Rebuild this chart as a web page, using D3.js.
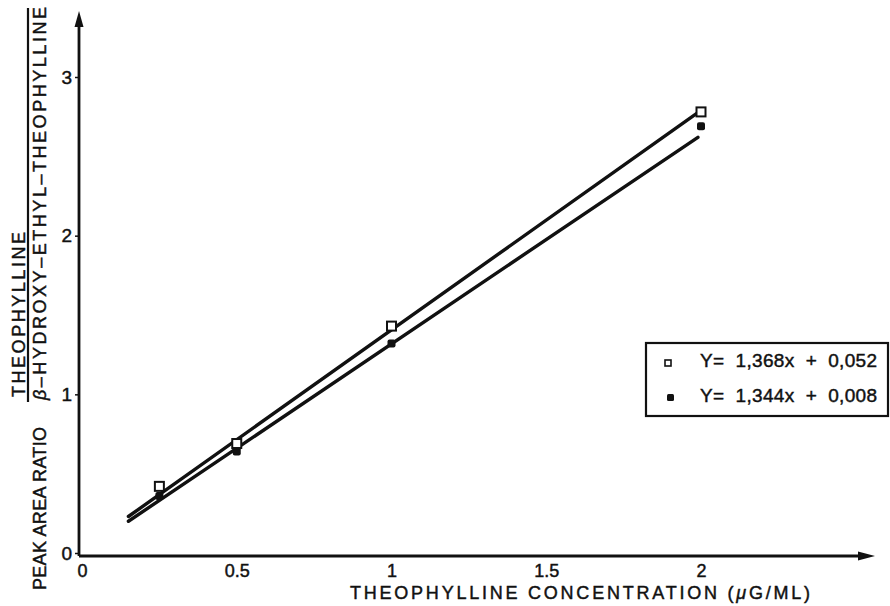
<!DOCTYPE html>
<html>
<head>
<meta charset="utf-8">
<script src="https://cdn.jsdelivr.net/npm/d3@7"></script>
<style>
  body { margin: 0; background: #fff; }
  svg { display: block; font-family: "Liberation Sans", Arial, sans-serif; }
  text { fill: #111; stroke: #111; stroke-width: 0.45px; }
</style>
</head>
<body>
<div id="chart"></div>
<script>
// ===== Data =====
const concentrations = [0.25, 0.5, 1, 2];
const ratioOpen = [0.42, 0.69, 1.43, 2.78];
const ratioFilled = [0.36, 0.64, 1.32, 2.69];
// fitted lines as drawn (start / end points)
const lineOpen = [[0.15, 0.23], [2, 2.79]];
const lineFilled = [[0.15, 0.2], [1.99, 2.62]];
const xTicks = [0, 0.5, 1, 1.5, 2];
const xTickLabels = ["0", "0.5", "1", "1.5", "2"];
const yTicks = [0, 1, 2, 3];
const legendLabels = ["Y=  1,368x  +  0,052", "Y=  1,344x  +  0,008"];

const W = 890, H = 606;
const svg = d3.select("#chart").append("svg").attr("width", W).attr("height", H);

const x = d3.scaleLinear().domain([0, 2]).range([82, 701]);
const y = d3.scaleLinear().domain([0, 3]).range([553, 77]);
const axisX = 79, axisY = 556;

// ===== Axes =====
svg.append("g")
  .attr("transform", `translate(${axisX},0)`)
  .call(d3.axisLeft(y).tickValues(yTicks).tickSize(4).tickPadding(3).tickFormat(d3.format("d")))
  .call((g) => g.select(".domain").remove())
  .call((g) => g.selectAll("line").attr("stroke", "#111").attr("stroke-width", 1.5))
  .call((g) => g.selectAll("text").attr("font-size", 19).attr("fill", "#111"));

svg.append("g")
  .attr("transform", `translate(0,${axisY})`)
  .call(d3.axisBottom(x).tickValues(xTicks).tickSize(0).tickPadding(8)
    .tickFormat((d, i) => xTickLabels[i]))
  .call((g) => g.select(".domain").remove())
  .call((g) => g.selectAll("text").attr("font-size", 18).attr("fill", "#111"));

// axis lines with arrow heads
svg.append("line").attr("x1", axisX).attr("y1", axisY).attr("x2", axisX).attr("y2", 22)
  .attr("stroke", "#111").attr("stroke-width", 2.8);
svg.append("path").attr("d", `M${axisX - 4.5},27 L${axisX},11 L${axisX + 4.5},27 Z`).attr("fill", "#111");
svg.append("line").attr("x1", axisX).attr("y1", axisY).attr("x2", 862).attr("y2", axisY)
  .attr("stroke", "#111").attr("stroke-width", 2.8);
svg.append("path").attr("d", `M858,${axisY - 4.5} L875,${axisY} L858,${axisY + 4.5} Z`).attr("fill", "#111");

// ===== Axis titles =====
svg.append("text")
  .attr("x", 350).attr("y", 599)
  .attr("font-size", 18)
  .attr("textLength", 460).attr("lengthAdjust", "spacing")
  .html('THEOPHYLLINE CONCENTRATION (<tspan font-style="italic">μ</tspan>G/ML)');

svg.append("text")
  .attr("transform", "translate(46,590) rotate(-90)")
  .attr("font-size", 18)
  .attr("textLength", 163).attr("lengthAdjust", "spacing")
  .text("PEAK AREA RATIO");

svg.append("text")
  .attr("transform", "translate(25,397) rotate(-90)")
  .attr("font-size", 18)
  .attr("textLength", 165).attr("lengthAdjust", "spacing")
  .text("THEOPHYLLINE");

svg.append("line").attr("x1", 28).attr("y1", 8).attr("x2", 28).attr("y2", 402)
  .attr("stroke", "#111").attr("stroke-width", 2.2);

svg.append("text")
  .attr("transform", "translate(46,400) rotate(-90)")
  .attr("font-size", 18)
  .attr("textLength", 393).attr("lengthAdjust", "spacing")
  .html('<tspan font-style="italic">β</tspan>–HYDROXY–ETHYL–THEOPHYLLINE');

// ===== Regression lines =====
const line = d3.line().x((d) => x(d[0])).y((d) => y(d[1]));
[lineOpen, lineFilled].forEach((pts) => {
  svg.append("path")
    .datum(pts)
    .attr("d", line)
    .attr("fill", "none")
    .attr("stroke", "#111")
    .attr("stroke-width", 3.4)
    .attr("stroke-linecap", "round");
});

// ===== Points =====
const filledPts = concentrations.map((c, i) => ({ c, v: ratioFilled[i] }));
const openPts = concentrations.map((c, i) => ({ c, v: ratioOpen[i] }));

svg.selectAll(".filled")
  .data(filledPts)
  .enter()
  .append("rect")
  .attr("class", "filled")
  .attr("x", (d) => x(d.c) - 4)
  .attr("y", (d) => y(d.v) - 4)
  .attr("width", 8).attr("height", 8)
  .attr("rx", 2)
  .attr("fill", "#111");

svg.selectAll(".open")
  .data(openPts)
  .enter()
  .append("rect")
  .attr("class", "open")
  .attr("x", (d) => x(d.c) - 4.5)
  .attr("y", (d) => y(d.v) - 4.5)
  .attr("width", 9).attr("height", 9)
  .attr("fill", "#fff")
  .attr("stroke", "#111")
  .attr("stroke-width", 2);

// ===== Legend =====
const legend = svg.append("g");
legend.append("rect")
  .attr("x", 646).attr("y", 343).attr("width", 242).attr("height", 73)
  .attr("fill", "#fff").attr("stroke", "#111").attr("stroke-width", 2.2);

legend.append("rect").attr("x", 665).attr("y", 360).attr("width", 6).attr("height", 6)
  .attr("fill", "#fff").attr("stroke", "#111").attr("stroke-width", 1.6);
legend.append("rect").attr("x", 667).attr("y", 394).attr("width", 7).attr("height", 7)
  .attr("rx", 1.5).attr("fill", "#111");

legend.selectAll(".leg")
  .data(legendLabels)
  .enter()
  .append("text")
  .attr("class", "leg")
  .attr("x", 700)
  .attr("y", (d, i) => 367 + i * 35)
  .attr("font-size", 19)
  .attr("xml:space", "preserve")
  .style("white-space", "pre")
  .attr("textLength", 177).attr("lengthAdjust", "spacing")
  .text((d) => d);
</script>
</body>
</html>
